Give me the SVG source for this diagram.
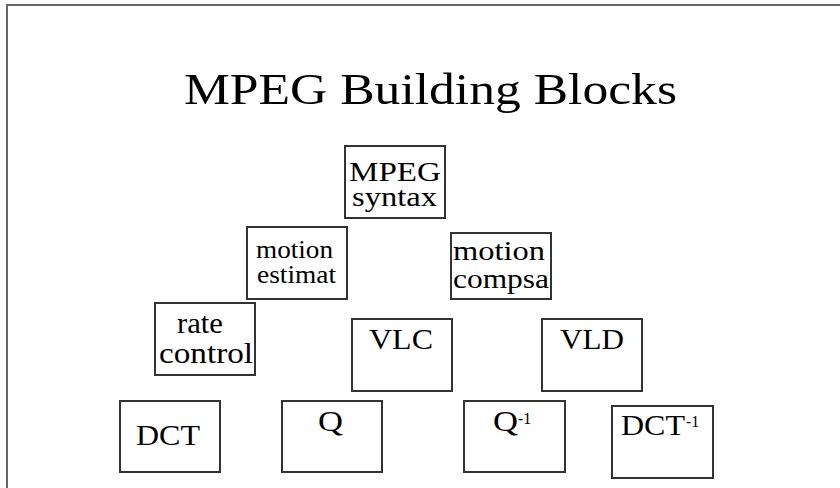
<svg xmlns="http://www.w3.org/2000/svg" width="840" height="488" viewBox="0 0 840 488">
<style>
  .frame{fill:none;stroke:#666;stroke-width:2}
  .box{fill:#fff;stroke:#333;stroke-width:2}
  text{font-family:"Liberation Serif","Times New Roman",serif;fill:#000}
  .t{font-size:29px}
  .m{font-size:27px}
  .s{font-size:25px}
  .sup{font-size:16px}
  .title{font-size:45px}
</style>
<rect class="frame" x="7" y="5" width="900" height="600"/>
<text class="title" x="184" y="104" textLength="493" lengthAdjust="spacingAndGlyphs">MPEG Building Blocks</text>
<g id="connectors"></g>
<g id="mpeg-syntax">
  <rect class="box" x="345" y="146" width="100" height="72"/>
  <text class="m" x="349" y="181" textLength="92" lengthAdjust="spacingAndGlyphs">MPEG</text>
  <text class="m" x="352" y="206" textLength="85" lengthAdjust="spacingAndGlyphs">syntax</text>
</g>
<g id="motion-estimat">
  <rect class="box" x="247" y="227" width="100" height="72"/>
  <text class="s" x="256" y="258" textLength="77" lengthAdjust="spacingAndGlyphs">motion</text>
  <text class="s" x="257" y="283" textLength="79" lengthAdjust="spacingAndGlyphs">estimat</text>
</g>
<g id="motion-compsa">
  <rect class="box" x="451" y="233" width="100" height="66"/>
  <text class="m" x="453" y="260" textLength="92" lengthAdjust="spacingAndGlyphs">motion</text>
  <text class="m" x="453" y="288" textLength="96" lengthAdjust="spacingAndGlyphs">compsa</text>
</g>
<g id="rate-control">
  <rect class="box" x="155" y="303" width="100" height="72"/>
  <text class="t" x="177" y="333" textLength="46" lengthAdjust="spacingAndGlyphs">rate</text>
  <text class="t" x="159" y="363" textLength="94" lengthAdjust="spacingAndGlyphs">control</text>
</g>
<g id="vlc">
  <rect class="box" x="352" y="319" width="100" height="72"/>
  <text class="t" x="369" y="349" textLength="64" lengthAdjust="spacingAndGlyphs">VLC</text>
</g>
<g id="vld">
  <rect class="box" x="542" y="319" width="100" height="72"/>
  <text class="t" x="560" y="349" textLength="64" lengthAdjust="spacingAndGlyphs">VLD</text>
</g>
<g id="dct">
  <rect class="box" x="120" y="401" width="100" height="71"/>
  <text class="t" x="136" y="445" textLength="64" lengthAdjust="spacingAndGlyphs">DCT</text>
</g>
<g id="q">
  <rect class="box" x="282" y="401" width="100" height="71"/>
  <text class="t" x="318" y="431" textLength="25" lengthAdjust="spacingAndGlyphs">Q</text>
</g>
<g id="q-inv">
  <rect class="box" x="464" y="401" width="101" height="71"/>
  <text class="t" x="493" y="431"><tspan textLength="25" lengthAdjust="spacingAndGlyphs">Q</tspan><tspan class="sup" x="518" y="424">-1</tspan></text>
</g>
<g id="dct-inv">
  <rect class="box" x="612" y="406" width="101" height="72"/>
  <text class="t" x="621" y="435"><tspan textLength="64" lengthAdjust="spacingAndGlyphs">DCT</tspan><tspan class="sup" x="686" y="427">-1</tspan></text>
</g>
</svg>
